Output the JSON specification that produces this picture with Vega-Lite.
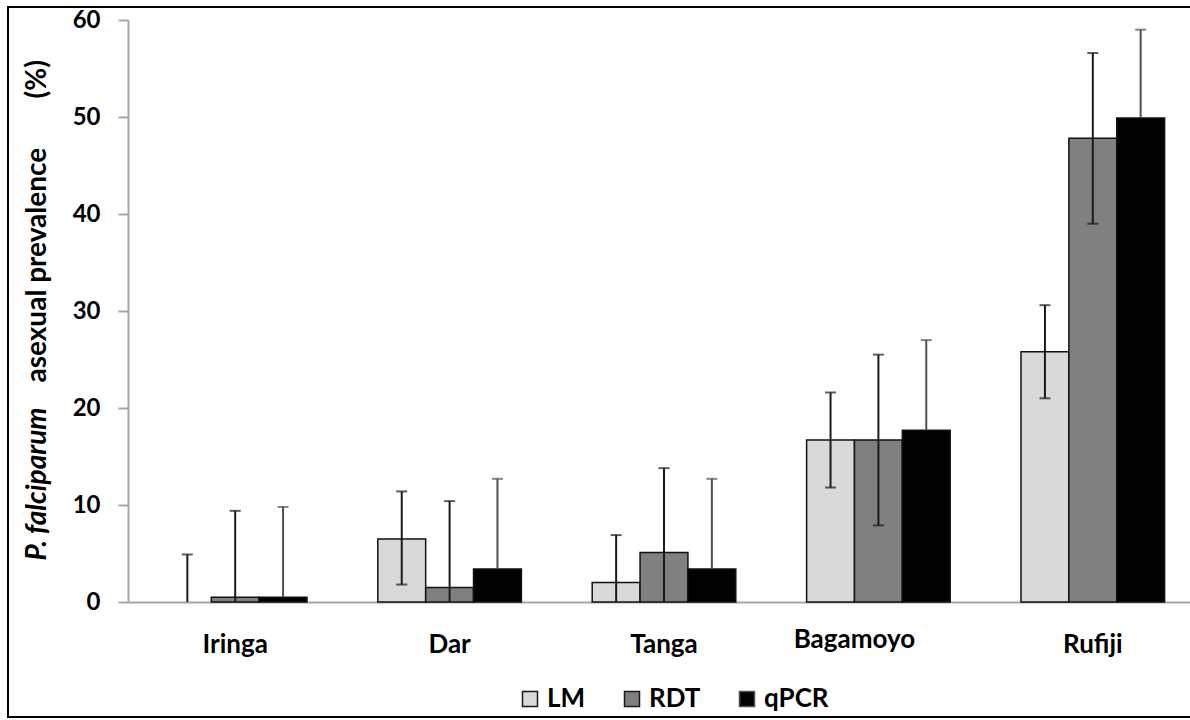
{
  "$schema": "https://vega.github.io/schema/vega-lite/v6.json",
  "autosize": {"type": "none"},
  "padding": {"left": 8, "top": 7, "right": 0, "bottom": 3},
  "width": 1183,
  "height": 710,
  "background": "white",
  "config": {
    "view": {"stroke": "black", "strokeWidth": 2},
    "font": "Lato",
    "axis": {"grid": false}
  },
  "data": {
    "values": [
      {"site": "Iringa", "method": "LM", "v": 0, "lo": 0, "hi": 4.9},
      {"site": "Iringa", "method": "RDT", "v": 0.5, "lo": 0, "hi": 9.4},
      {"site": "Iringa", "method": "qPCR", "v": 0.5, "lo": 0.5, "hi": 9.8},
      {"site": "Dar", "method": "LM", "v": 6.5, "lo": 1.8, "hi": 11.4},
      {"site": "Dar", "method": "RDT", "v": 1.5, "lo": 0, "hi": 10.4},
      {"site": "Dar", "method": "qPCR", "v": 3.4, "lo": 3.4, "hi": 12.7},
      {"site": "Tanga", "method": "LM", "v": 2.0, "lo": 0, "hi": 6.9},
      {"site": "Tanga", "method": "RDT", "v": 5.1, "lo": 0, "hi": 13.8},
      {"site": "Tanga", "method": "qPCR", "v": 3.4, "lo": 3.4, "hi": 12.7},
      {"site": "Bagamoyo", "method": "LM", "v": 16.7, "lo": 11.8, "hi": 21.6},
      {"site": "Bagamoyo", "method": "RDT", "v": 16.7, "lo": 7.9, "hi": 25.5},
      {"site": "Bagamoyo", "method": "qPCR", "v": 17.7, "lo": 17.7, "hi": 27.0},
      {"site": "Rufiji", "method": "LM", "v": 25.8, "lo": 21.0, "hi": 30.6},
      {"site": "Rufiji", "method": "RDT", "v": 47.8, "lo": 39.0, "hi": 56.6},
      {"site": "Rufiji", "method": "qPCR", "v": 49.9, "lo": 49.9, "hi": 59.0}
    ]
  },
  "layer": [
    {
      "transform": [{"filter": "datum.v > 0"}],
      "mark": {"type": "bar", "stroke": "#111111", "strokeWidth": 1.5},
      "encoding": {
        "x": {
          "field": "site", "type": "nominal",
          "sort": ["Iringa", "Dar", "Tanga", "Bagamoyo", "Rufiji"],
          "scale": {"range": [120, 1192], "paddingInner": 0, "paddingOuter": 0},
          "axis": {
            "title": null, "offset": -115, "ticks": false,
            "domainColor": "#a6a6a6", "domainWidth": 2,
            "labelFontSize": 26, "labelFontWeight": "bold", "labelColor": "black",
            "labelPadding": {"condition": {"test": "datum.value === 'Bagamoyo'", "value": 24}, "value": 29},
            "labelOffset": {"condition": {"test": "datum.value === 'Bagamoyo'", "value": -24}, "value": 0},
            "labelAngle": 0
          }
        },
        "xOffset": {
          "field": "method", "type": "nominal", "sort": ["LM", "RDT", "qPCR"],
          "scale": {"paddingInner": 0, "paddingOuter": 0.74}
        },
        "y": {
          "field": "v", "type": "quantitative",
          "scale": {"domain": [0, 60], "range": [595, 13], "nice": false},
          "axis": {
            "orient": "left", "offset": -120,
            "values": [0, 10, 20, 30, 40, 50, 60],
            "domainColor": "#a6a6a6", "domainWidth": 2,
            "tickColor": "#a6a6a6", "tickWidth": 2, "tickSize": 10,
            "labelFontSize": 24, "labelFontWeight": "bold", "labelColor": "black", "labelPadding": 18,
            "title": "asexual prevalence",
            "titleFontSize": 28, "titleFontWeight": "bold", "titleColor": "black",
            "titleAngle": -90, "titleAlign": "left", "titleBaseline": "middle",
            "titleX": -91, "titleY": 375
          }
        },
        "fill": {
          "field": "method", "type": "nominal",
          "scale": {"domain": ["LM", "RDT", "qPCR"], "range": ["#d9d9d9", "#808080", "#000000"]},
          "legend": {
            "title": null, "orient": "none", "legendX": 509, "legendY": 679,
            "direction": "horizontal", "columns": 3, "padding": 0,
            "symbolType": "square", "symbolSize": 225,
            "symbolStrokeColor": "#595959", "symbolStrokeWidth": 1.5,
            "labelFontSize": 26, "labelFontWeight": "bold", "labelColor": "black",
            "labelOffset": 4, "columnPadding": 33
          }
        }
      }
    },
    {
      "mark": {"type": "rule", "strokeWidth": 2},
      "encoding": {
        "x": {"field": "site", "type": "nominal", "sort": ["Iringa", "Dar", "Tanga", "Bagamoyo", "Rufiji"]},
        "xOffset": {"field": "method", "type": "nominal", "sort": ["LM", "RDT", "qPCR"]},
        "y": {
          "field": "lo", "type": "quantitative",
          "axis": {
            "orient": "left", "offset": -120, "labels": false, "ticks": false, "domain": false,
            "title": "P. falciparum",
            "titleFontSize": 28, "titleFontWeight": "bold", "titleFontStyle": "italic", "titleColor": "black",
            "titleAngle": -90, "titleAlign": "left", "titleBaseline": "middle",
            "titleX": -91, "titleY": 553
          }
        },
        "y2": {"field": "hi"},
        "stroke": {
          "field": "method", "type": "nominal",
          "scale": {"domain": ["LM", "RDT", "qPCR"], "range": ["#1a1a1a", "#1a1a1a", "#505050"]},
          "legend": null
        }
      }
    },
    {
      "mark": {"type": "tick", "thickness": 2, "size": 11},
      "encoding": {
        "x": {"field": "site", "type": "nominal", "sort": ["Iringa", "Dar", "Tanga", "Bagamoyo", "Rufiji"]},
        "xOffset": {"field": "method", "type": "nominal", "sort": ["LM", "RDT", "qPCR"]},
        "y": {
          "field": "hi", "type": "quantitative",
          "axis": {
            "orient": "left", "offset": -120, "labels": false, "ticks": false, "domain": false,
            "title": "(%)",
            "titleFontSize": 28, "titleFontWeight": "bold", "titleColor": "black",
            "titleAngle": -90, "titleAlign": "left", "titleBaseline": "middle",
            "titleX": -91, "titleY": 91
          }
        },
        "color": {
          "field": "method", "type": "nominal",
          "scale": {"domain": ["LM", "RDT", "qPCR"], "range": ["#1a1a1a", "#1a1a1a", "#505050"]},
          "legend": null
        }
      }
    },
    {
      "transform": [{"filter": "datum.lo > 0 && datum.lo < datum.v"}],
      "mark": {"type": "tick", "color": "#1a1a1a", "thickness": 2, "size": 11},
      "encoding": {
        "x": {"field": "site", "type": "nominal", "sort": ["Iringa", "Dar", "Tanga", "Bagamoyo", "Rufiji"]},
        "xOffset": {"field": "method", "type": "nominal", "sort": ["LM", "RDT", "qPCR"]},
        "y": {"field": "lo", "type": "quantitative", "axis": null}
      }
    }
  ],
  "resolve": {"axis": {"y": "independent"}}
}
